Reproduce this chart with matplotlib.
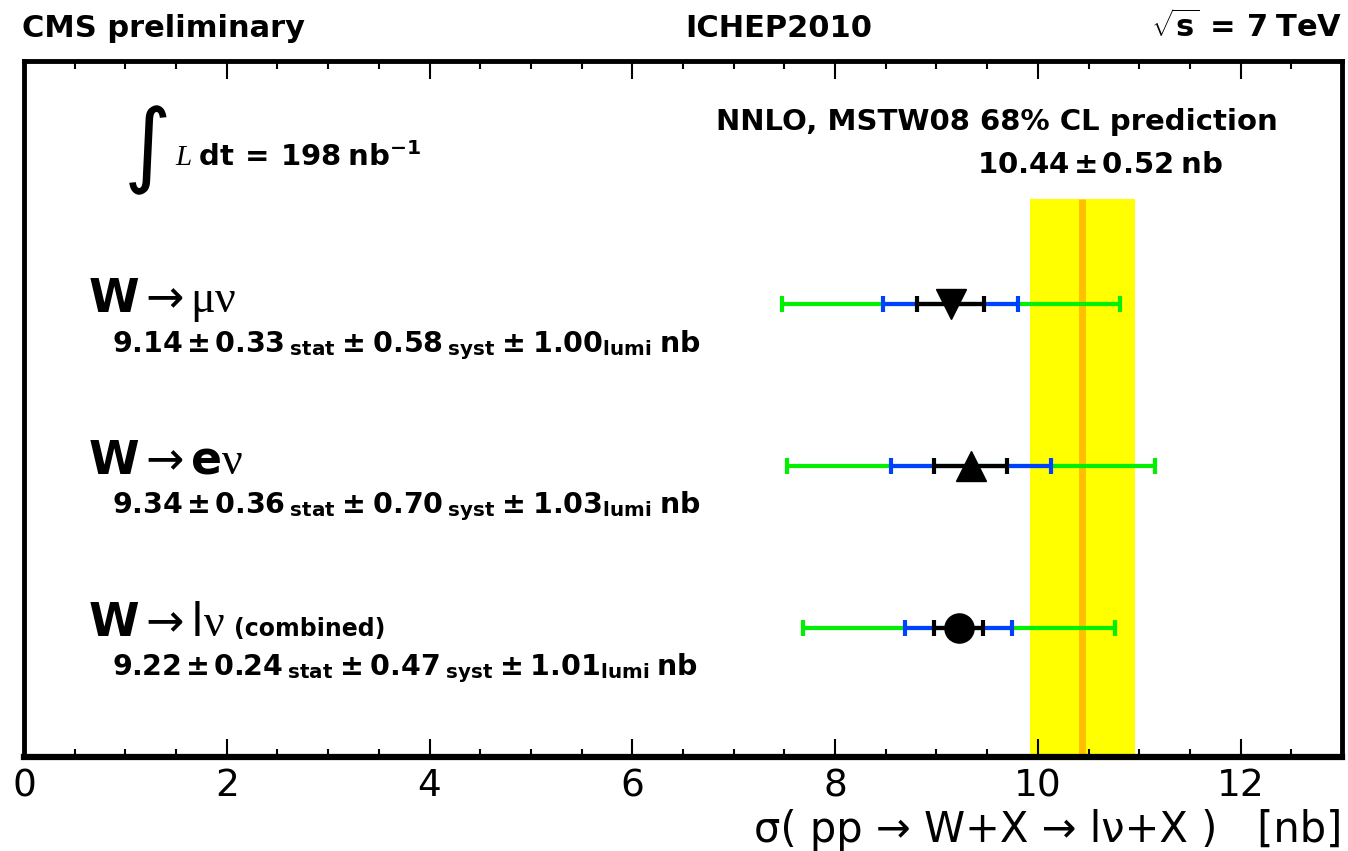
import numpy as np
import matplotlib
matplotlib.use("Agg")
import matplotlib.pyplot as plt
from matplotlib.ticker import MultipleLocator

plt.rcParams['font.family'] = ['DejaVu Sans']
plt.rcParams['mathtext.fontset'] = 'custom'
plt.rcParams['mathtext.rm'] = 'DejaVu Sans'
plt.rcParams['mathtext.bf'] = 'DejaVu Sans:bold'
plt.rcParams['mathtext.it'] = 'Liberation Serif:italic'
plt.rcParams['mathtext.sf'] = 'Liberation Serif'

# measured W cross sections [nb]
channels = [r"$\mathbf{W}\rightarrow\mathsf{μν}$",
            r"$\mathbf{W}\rightarrow\mathbf{e}\mathsf{ν}$",
            r"$\mathbf{W}\rightarrow\mathrm{l}\mathsf{ν}$"]
markers = ["v", "^", "o"]
xsec = [9.14, 9.34, 9.22]
stat = [0.33, 0.36, 0.24]
syst = [0.58, 0.70, 0.47]
lumi = [1.00, 1.03, 1.01]

# NNLO MSTW08 prediction
theory = 10.44
theory_err = 0.52
int_lumi = 198

green = "#00f000"
blue = "#0040ff"
yellow = "#ffff00"
orange = "#ffbf00"

xsec = np.array(xsec)
stat = np.array(stat)
syst = np.array(syst)
lumi = np.array(lumi)
err_exp = np.sqrt(stat ** 2 + syst ** 2)
err_tot = err_exp + lumi
ypos = 0.8 + np.arange(len(xsec))[::-1]

fig = plt.figure(figsize=(13.48, 8.51), dpi=100)
ax = fig.add_axes([24 / 1348, 1 - 757 / 851, 1318 / 1348, 696 / 851])
ax.set_xlim(0, 13)
ax.set_ylim(0, 4.3)

# theory band
ax.fill_betweenx([0, 3.45], theory - theory_err, theory + theory_err,
                 color=yellow, lw=0, zorder=1)
ax.plot([theory, theory], [0, 3.45], color=orange, lw=5,
        solid_capstyle="butt", zorder=1.5)

for i in range(len(xsec)):
    ax.errorbar(xsec[i], ypos[i], xerr=err_tot[i], fmt="none", ecolor=green,
                elinewidth=3, capsize=6, capthick=3, zorder=2)
    ax.errorbar(xsec[i], ypos[i], xerr=err_exp[i], fmt="none", ecolor=blue,
                elinewidth=3, capsize=6, capthick=3, zorder=3)
    ax.errorbar(xsec[i], ypos[i], xerr=stat[i], fmt="none", ecolor="black",
                elinewidth=3, capsize=6, capthick=3, zorder=4)
    ax.plot(xsec[i], ypos[i], marker=markers[i], color="black", ms=21, zorder=5)

    lab = ax.annotate(channels[i], xy=(0.0486, ypos[i]),
                      xycoords=("axes fraction", "data"), xytext=(0, -5.8),
                      textcoords="offset points", fontsize=33, va="baseline")
    val = (r"$\mathbf{%.2f \pm %.2f}_{\ \mathbf{stat}}\ \mathbf{\pm\ %.2f}_{\ \mathbf{syst}}"
           r"\ \mathbf{\pm\ %.2f}_{\mathbf{lumi}}\ \mathbf{nb}$" % (xsec[i], stat[i], syst[i], lumi[i]))
    ax.annotate(val, xy=(0.0668, ypos[i]), xycoords=("axes fraction", "data"),
                xytext=(0, -34.5), textcoords="offset points", fontsize=20.5,
                va="baseline")
    if i == 2:
        ax.annotate("(combined)", xy=(1, ypos[i]), xycoords=(lab, "data"),
                    xytext=(7, -5.8), textcoords="offset points", fontsize=17,
                    fontweight="bold", va="baseline")

# luminosity
ax.text((148 - 24) / 1318, (757 - 150) / 696, "∫", fontsize=66,
        ha="center", va="center", transform=ax.transAxes)
ax.text((175 - 24) / 1318, (757 - 166) / 696,
        r"$\mathit{L}\ \mathbf{dt\ =\ %d\ nb^{-1}}$" % int_lumi,
        fontsize=21, va="baseline", transform=ax.transAxes)

ax.text((997 - 24) / 1318, (757 - 130) / 696, "NNLO, MSTW08 68% CL prediction",
        fontsize=21, fontweight="bold", ha="center", va="baseline",
        transform=ax.transAxes)
ax.text((1100 - 24) / 1318, (757 - 173) / 696,
        r"$\mathbf{%.2f \pm %.2f\ nb}$" % (theory, theory_err),
        fontsize=21, ha="center", va="baseline", transform=ax.transAxes)

# header
fig.text(22 / 1348, 1 - 37 / 851, "CMS preliminary", fontsize=22,
         fontweight="bold", va="baseline")
fig.text(779 / 1348, 1 - 37 / 851, "ICHEP2010", fontsize=22,
         fontweight="bold", ha="center", va="baseline")
fig.text(1342 / 1348, 1 - 37 / 851, r"$\sqrt{\mathbf{s}}\mathbf{\ =\ 7\ TeV}$",
         fontsize=22, ha="right", va="baseline")

# axes styling
for side in ["left", "right", "top"]:
    ax.spines[side].set_linewidth(3.5)
ax.spines["bottom"].set_linewidth(4.5)
ax.set_yticks([])
ax.xaxis.set_major_locator(MultipleLocator(2))
ax.xaxis.set_minor_locator(MultipleLocator(0.5))
ax.tick_params(axis="x", which="both", direction="in", top=True, width=1.5,
               labelsize=27, pad=8)
ax.tick_params(axis="x", which="major", length=13)
ax.tick_params(axis="x", which="minor", length=6)

ax.set_xlabel("σ( pp → W+X → lν+X )   [nb]", fontsize=30,
              ha="right", va="baseline")
ax.xaxis.set_label_coords(1.0, (757 - 842) / 696)

fig.savefig("out.png", dpi=100)
